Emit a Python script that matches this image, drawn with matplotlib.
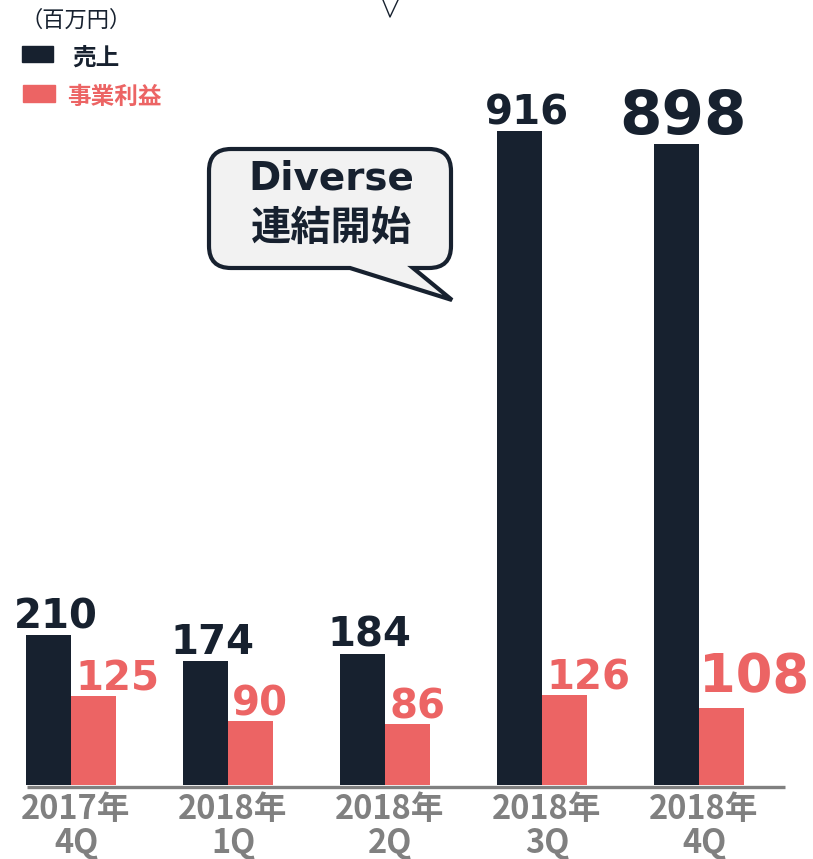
import matplotlib
matplotlib.use("Agg")
import matplotlib.pyplot as plt
from matplotlib.path import Path
from matplotlib.patches import PathPatch, Rectangle

plt.rcParams['font.family'] = ['DejaVu Sans', 'Noto Sans CJK JP']

# データ
quarters = ["2017年\n4Q", "2018年\n1Q", "2018年\n2Q", "2018年\n3Q", "2018年\n4Q"]
sales = [210, 174, 184, 916, 898]
profit = [125, 90, 86, 126, 108]

NAVY = "#17212f"
RED = "#ec6464"
GRAY = "#808080"

W, H = 813, 859
fig = plt.figure(figsize=(W / 100, H / 100), dpi=100)
ax = fig.add_axes([0, 0, 1, 1])

# ピクセル -> データの対応（中心 71px, 間隔 157px, 0.714px/百万円, 0 は y=785px）
step = 157.0
ppu = 0.714
ax.set_xlim(-71 / step, (W - 71) / step)
ax.set_ylim((785 - H) / ppu, 785 / ppu)
ax.axis("off")

bw = 45 / step
x = list(range(len(quarters)))
ax.bar([i - bw / 2 for i in x], sales, width=bw, color=NAVY, zorder=2)
ax.bar([i + bw / 2 for i in x], profit, width=bw, color=RED, zorder=2)

# 横軸の線
ax.plot([-44 / step, 714 / step], [-2.5, -2.5], color=GRAY, lw=2.4, zorder=3,
        solid_capstyle="butt")

# 数値ラベル
for i in x:
    big = (i == len(x) - 1)
    ax.annotate(str(sales[i]), (i - bw / 2, sales[i]), xytext=(5, 5 if not big else 7),
                textcoords="offset points", ha="center", va="baseline",
                fontsize=44 if big else 29, fontweight="bold", color=NAVY)
    ax.annotate(str(profit[i]), (i, profit[i]), xytext=(3 if not big else 0, 4 if not big else 11),
                textcoords="offset points", ha="left", va="baseline",
                fontsize=38 if big else 29, fontweight="bold", color=RED)

# カテゴリラベル
for i, q in enumerate(quarters):
    top, bottom = q.split("\n")
    ax.text(i + 5 / step, (785 - 809) / ppu, top, ha="center", va="center",
            fontsize=23.5, fontweight="bold", color=GRAY, family="Noto Sans CJK JP")
    ax.text(i + 5 / step, (785 - 844) / ppu, bottom, ha="center", va="center",
            fontsize=23.5, fontweight="bold", color=GRAY, family="Noto Sans CJK JP")


def fx(px):
    return px / W


def fy(py):
    return 1 - py / H


# 凡例
fig.text(fx(20), fy(20), "（百万円）", ha="left", va="center", fontsize=16,
         color=NAVY, family="Noto Sans CJK JP")
fig.patches.append(Rectangle((fx(22), fy(62)), fx(31), 16 / H, color=NAVY,
                             transform=fig.transFigure, figure=fig))
fig.patches.append(Rectangle((fx(23), fy(102)), fx(32), 17 / H, color=RED,
                             transform=fig.transFigure, figure=fig))
fig.text(fx(72), fy(58), "売上", ha="left", va="center", fontsize=17,
         fontweight="bold", color=NAVY, family="Noto Sans CJK JP")
fig.text(fx(67), fy(97), "事業利益", ha="left", va="center", fontsize=17,
         fontweight="bold", color=RED, family="Noto Sans CJK JP")

# 吹き出し
L, R, T, B, r = 209, 451, 149, 268, 22
pts = [(L + r, T), (R - r, T), (R, T), (R, T + r), (R, B - r), (R, B), (R - r, B),
       (413, B), (452, 300), (350, B), (L + r, B), (L, B), (L, B - r), (L, T + r),
       (L, T), (L + r, T), (L + r, T)]
codes = [Path.MOVETO, Path.LINETO, Path.CURVE3, Path.CURVE3, Path.LINETO,
         Path.CURVE3, Path.CURVE3, Path.LINETO, Path.LINETO, Path.LINETO,
         Path.LINETO, Path.CURVE3, Path.CURVE3, Path.LINETO, Path.CURVE3,
         Path.CURVE3, Path.CLOSEPOLY]
bubble = Path([(fx(a), fy(b)) for a, b in pts], codes)
fig.patches.append(PathPatch(bubble, facecolor="#f2f2f2", edgecolor=NAVY, lw=3,
                             joinstyle="miter", transform=fig.transFigure, figure=fig))
fig.text(fx(331), fy(179), "Diverse", ha="center", va="center", fontsize=28,
         fontweight="bold", color=NAVY)
fig.text(fx(331), fy(228), "連結開始", ha="center", va="center", fontsize=29,
         fontweight="bold", color=NAVY, family="Noto Sans CJK JP")

# 上端の小さな V
fig.lines.append(plt.Line2D([fx(383), fx(390), fx(398)], [fy(0), fy(17), fy(0)],
                            color=NAVY, lw=1, transform=fig.transFigure, figure=fig))

fig.savefig("out.png", dpi=100)
